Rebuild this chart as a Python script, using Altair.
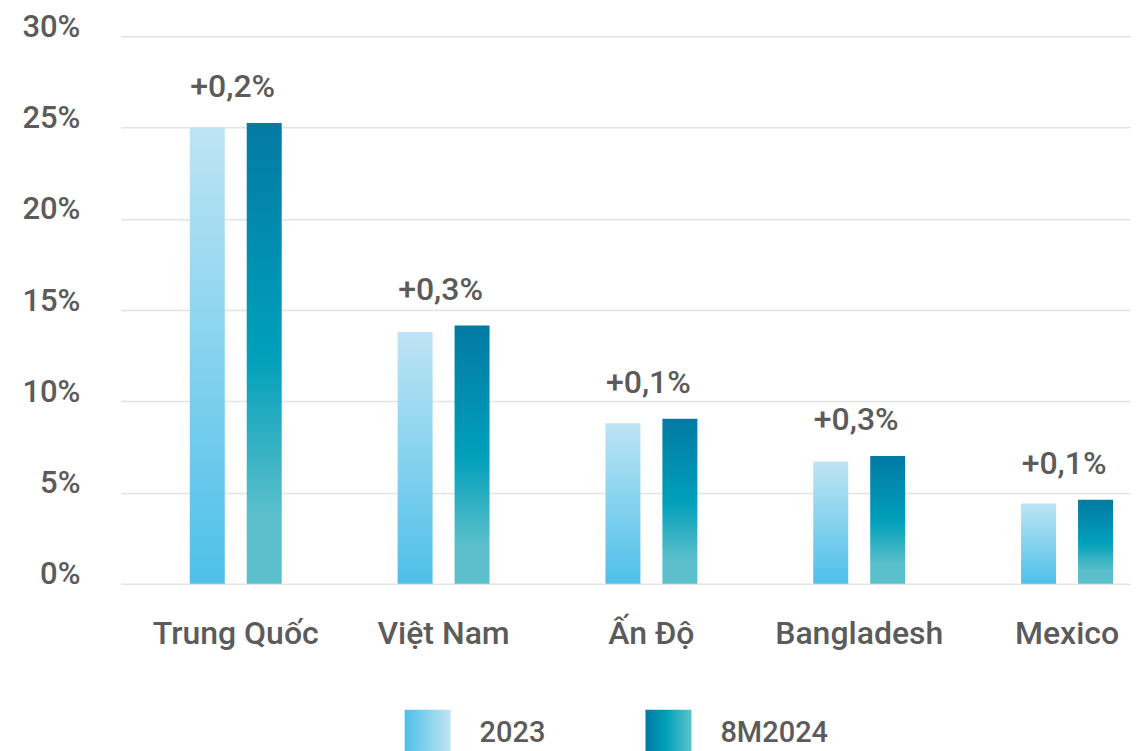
import altair as alt
import pandas as pd

countries = ["Trung Quốc", "Việt Nam", "Ấn Độ", "Bangladesh", "Mexico"]
series = ["2023", "8M2024"]
values_2023 = [25.0, 13.8, 8.8, 6.7, 4.4]
values_8m2024 = [25.25, 14.15, 9.05, 7.0, 4.6]
change_labels = ["+0,2%", "+0,3%", "+0,1%", "+0,3%", "+0,1%"]
y_ticks = [0, 5, 10, 15, 20, 25, 30]

rows = []
for c, a, b in zip(countries, values_2023, values_8m2024):
    rows.append({"country": c, "series": series[0], "value": a})
    rows.append({"country": c, "series": series[1], "value": b})
df = pd.DataFrame(rows)
ann = pd.DataFrame({"country": countries, "value": values_8m2024, "label": change_labels})
leg_df = pd.DataFrame({"series": series})

FONT = "Roboto"
TEXT = "#5b5b5b"


def stop(c, o):
    return alt.GradientStop(color=c, offset=o)


light_grad = alt.Gradient(gradient="linear", x1=0, x2=0, y1=0, y2=1,
                          stops=[stop("#bee4f4", 0), stop("#4dc0e9", 1)])
dark_grad = alt.Gradient(gradient="linear", x1=0, x2=0, y1=0, y2=1,
                         stops=[stop("#037aa3", 0), stop("#009fba", 0.5),
                                stop("#5bbfcb", 0.85), stop("#5cc0cc", 1)])
light_leg = alt.Gradient(gradient="linear", x1=0, x2=1, y1=0, y2=0,
                         stops=[stop("#4fc0e8", 0), stop("#bfe5f5", 1)])
dark_leg = alt.Gradient(gradient="linear", x1=0, x2=1, y1=0, y2=0,
                        stops=[stop("#007ba3", 0), stop("#00a0b8", 0.45), stop("#5cc4cc", 1)])

xscale = alt.Scale(domain=countries, paddingInner=0.5577, paddingOuter=0.209, align=0.793)
xoff = alt.Scale(domain=series, paddingInner=0.386, paddingOuter=0)
yscale = alt.Scale(domain=[0, 30], nice=False)

X = alt.X("country:N", scale=xscale, sort=countries,
          axis=alt.Axis(title=None, labelAngle=0, domain=False, ticks=False,
                        labelFont=FONT, labelFontSize=32, labelFontWeight=500,
                        labelColor=TEXT, labelPadding=35, grid=False))
Y = alt.Y("value:Q", scale=yscale,
          axis=alt.Axis(title=None, values=y_ticks, labelExpr="datum.value + '%'",
                        domain=False, ticks=False, gridColor="#e3e3e3", gridWidth=1.5,
                        labelPadding=41, labelFont=FONT, labelFontSize=31,
                        labelFontWeight=500, labelColor=TEXT,
                        labelBaseline="middle", labelOffset=-9))

base = alt.Chart(df).encode(x=X, y=Y, xOffset=alt.XOffset("series:N", scale=xoff, sort=series))
bars_light = base.transform_filter(alt.datum.series == series[0]).mark_bar(color=light_grad)
bars_dark = base.transform_filter(alt.datum.series == series[1]).mark_bar(color=dark_grad)
labels = alt.Chart(ann).mark_text(font=FONT, fontSize=32, fontWeight=500, color=TEXT,
                                  baseline="middle", dy=-36, dx=-3).encode(x=X, y=Y, text="label:N")

main = alt.layer(bars_light, bars_dark, labels).properties(width=1011, height=548)

LX = alt.X("series:N", scale=alt.Scale(type="band", domain=series, paddingInner=0,
                                       paddingOuter=1, align=0.387),
           axis=None)
leg_base = alt.Chart(leg_df).encode(x=LX)
sq_light = leg_base.transform_filter(alt.datum.series == series[0]).mark_square(
    size=2116, fill=light_leg, opacity=1, strokeWidth=0)
sq_dark = leg_base.transform_filter(alt.datum.series == series[1]).mark_square(
    size=2116, fill=dark_leg, opacity=1, strokeWidth=0)
leg_text = leg_base.mark_text(font=FONT, fontSize=29, fontWeight=500, color=TEXT,
                              align="left", baseline="middle", dx=52).encode(text="series:N")
legend = alt.layer(sq_light, sq_dark, leg_text).properties(width=964, height=46)

chart = alt.vconcat(main, legend, spacing=60).properties(
    padding={"left": 13, "top": 3, "right": 0, "bottom": 0},
    background="white",
).configure_view(strokeWidth=0, stroke="transparent")

chart.save("out.html", embed_options={"renderer": "svg", "actions": False})
